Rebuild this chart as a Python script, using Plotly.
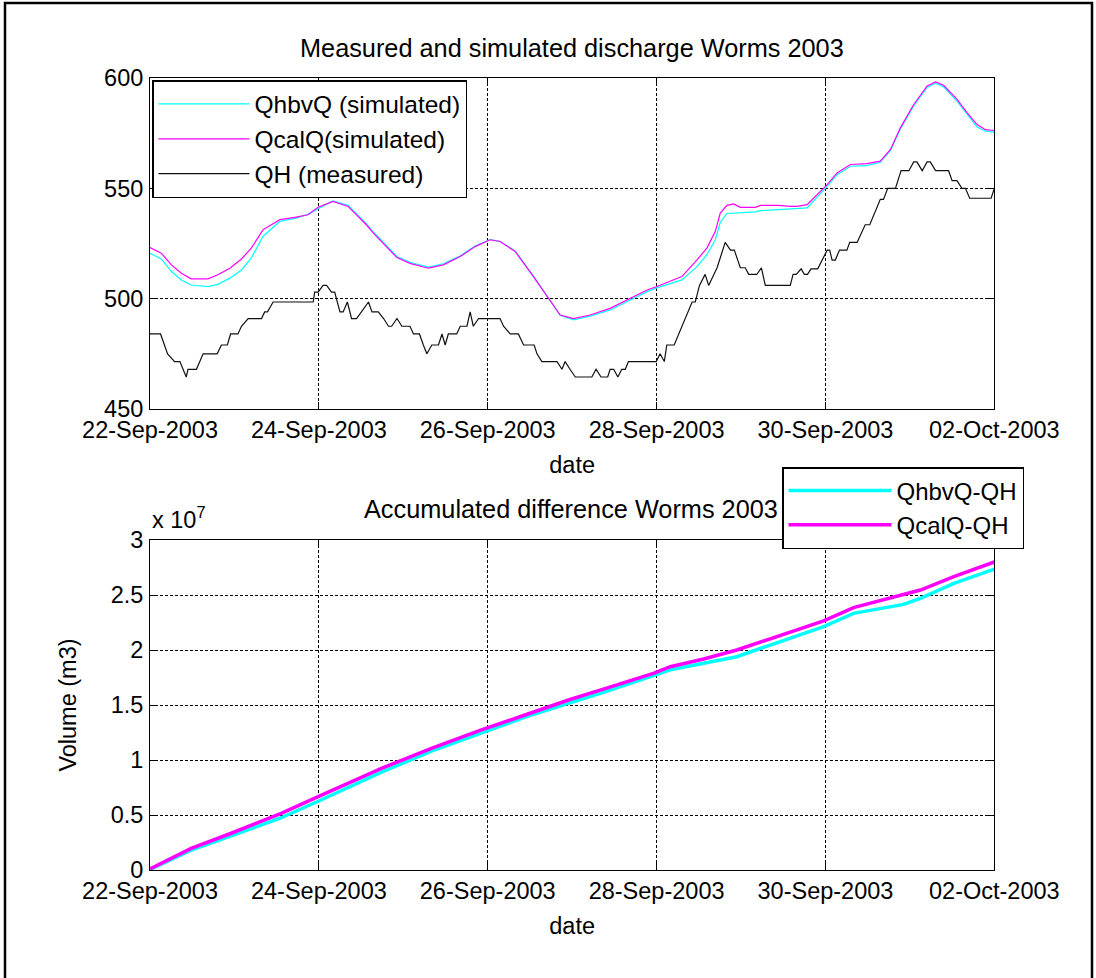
import pandas as pd
import plotly.graph_objects as go

# ---------------- data ----------------
START = "2003-09-22 00:00"

# measured discharge QH: hours after START and values (m3/s)
QH_HOURS = [0, 3, 5, 7, 8.5, 10.3, 10.8, 13.2, 15.1, 19.1, 20.3, 22.0, 22.9, 25.0, 26.0,
            27.9, 31.7, 32.6, 33.4, 35.0, 46.4, 46.8, 47.8, 49.2, 50.2, 51.6, 52.5, 54.0,
            54.9, 56.1, 57.3, 58.7, 60.1, 62.1, 63.1, 64.9, 66.4, 67.8, 68.7, 70.2, 71.6,
            73.9, 74.9, 76.6, 77.7, 78.7, 80.1, 82.0, 83.0, 83.9, 84.8, 87.2, 88.2, 90.1,
            91.0, 91.9, 93.4, 99.5, 100.5, 102.4, 104.7, 106.2, 109.2, 110.0, 111.4, 115.7,
            117.1, 118.0, 119.4, 120.9, 125.6, 126.8, 128.2, 130.1, 130.8, 131.8, 133.0,
            134.1, 135.1, 136.0, 143.9, 145.0, 146.2, 146.9, 149.0, 151.2, 154.1, 155.0,
            156.2, 157.8, 158.8, 161.2, 163.5, 165.0, 166.1, 167.8, 169.2, 170.2, 172.5,
            173.8, 174.9, 182.0, 182.8, 183.7, 185.1, 186.0, 186.9, 187.9, 189.8, 192.5,
            193.2, 193.9, 194.8, 196.0, 198.1, 198.9, 201.0, 203.3, 204.6, 207.6, 208.5,
            209.7, 211.9, 213.5, 215.7, 217.1, 218.0, 219.5, 220.9, 221.8, 223.3, 227.0,
            228.0, 229.4, 230.8, 231.8, 233.0, 239.1, 240.0]
QH_VALUES = [484, 484, 475, 471.5, 471.5, 464.5, 468, 468, 475, 475, 479, 479, 484, 484, 487.5,
             491, 491, 494, 494, 498.5, 498.5, 503, 503, 506, 506, 503, 503, 494,
             494, 498.5, 491, 491, 494, 498.5, 494, 494, 491, 487.5, 487.5, 491, 487.5,
             487.5, 484, 484, 479, 475, 479, 479, 484, 479, 484, 484, 487.5, 487.5,
             494, 487.5, 491, 491, 487.5, 484, 484, 479, 479, 475, 471.5, 471.5,
             468, 471.5, 468, 464.5, 464.5, 468, 464.5, 464.5, 468, 468, 464.5,
             468, 468, 471.5, 471.5, 475, 471.5, 479, 479, 487.5, 498.5, 498.5,
             506, 511, 506, 514, 525.5, 522, 522, 514, 514, 511, 511,
             514, 506, 506, 511, 511, 513.5, 511, 511, 513.5, 513.5, 522,
             522, 517.5, 517.5, 522, 522, 525.5, 525.5, 533.5, 533.5, 545, 545,
             550, 550, 558, 558, 562, 562, 558, 562, 562, 558, 558,
             553.5, 553.5, 550, 550, 545.5, 545.5, 550]

# simulated discharges: hours after START and values (m3/s)
SIM_HOURS = [0, 3.2, 6.1, 8.9, 11.7, 16.5, 19.3, 22.7, 26.0, 28.8, 32.1, 36.9, 41.2, 44.9, 47.8,
             52.0, 56.3, 61.5, 63.5, 67.3, 70.2, 73.9, 79.1, 83.4, 88.2, 92.4, 96.7, 99.5,
             103.8, 109.0, 113.3, 116.6, 120.4, 125.1, 130.8, 136.5, 141.3, 144.1, 147.9,
             151.2, 155.5, 158.3, 160.7, 162.1, 164.0, 165.9, 167.8, 172.1, 173.5, 178.7,
             182.0, 183.9, 186.8, 189.6, 192.5, 195.3, 199.1, 203.8, 207.6, 210.5, 213.3,
             217.1, 220.9, 223.3, 225.6, 229.4, 232.3, 235.1, 237.5, 240.0]
QHBVQ_VALUES = [520.6, 518, 512.3, 508.5, 506.2, 505.5, 506.5, 509.3, 513, 518.5, 528.2, 535,
                536.4, 538.2, 540.8, 544.3, 542.3, 534, 530.2, 524.1, 519.1, 516.5, 514.3,
                515.8, 519.4, 523.8, 526.8, 526, 521.6, 510.2, 500.3, 492.5, 490.4, 492.1,
                494.9, 499.4, 503.2, 504.9, 507, 508.5, 514.5, 519.9, 526.7, 534.5, 538.6,
                538.8, 538.8, 539.3, 539.9, 540.3, 540.6, 540.6, 541.1, 546, 550.9, 556.2,
                560, 560.3, 561.8, 567.2, 576.9, 587.3, 595.7, 597.6, 596, 589.5, 583.5,
                577.8, 575.9, 575.5]
QCALQ_VALUES = [523.2, 520.6, 515.3, 511.5, 509, 509, 510.8, 513.8, 518, 522.9, 531.2, 535.8,
                536.8, 538, 541.4, 544.1, 541.8, 533.5, 529.7, 523.6, 518.6, 516, 513.8,
                515.3, 519.1, 523.6, 526.7, 525.9, 521.4, 510, 500.1, 492.6, 491, 492.6,
                495.6, 500.1, 503.9, 505.5, 508, 510, 517.6, 522.9, 530.5, 538.8, 542.3,
                542.9, 541.4, 541.4, 542.3, 542.3, 541.8, 541.8, 542.6, 547.1, 551.7, 557,
                560.8, 561.2, 562.3, 567.6, 577.4, 588, 596.4, 598.2, 596.7, 590.3, 584.2,
                578.9, 576.6, 576.2]

# accumulated differences (m3)
CUM_HOURS = [0, 11.7, 23.1, 37.3, 47.8, 56.3, 65.8, 80.0, 94.2, 106.6, 119.4, 128.9, 143.1,
             147.9, 157.4, 166.8, 176.3, 191.5, 200.0, 214.2, 219.0, 228.5, 240.0]
CUM_QHBVQ_QH = [0.005e7, 0.18e7, 0.31e7, 0.475e7, 0.625e7, 0.75e7, 0.89e7, 1.08e7, 1.25e7,
                1.39e7, 1.52e7, 1.615e7, 1.767e7, 1.82e7, 1.879e7, 1.939e7, 2.045e7,
                2.212e7, 2.333e7, 2.415e7, 2.47e7, 2.606e7, 2.736e7]
CUM_QCALQ_QH = [0.01e7, 0.197e7, 0.334e7, 0.515e7, 0.667e7, 0.788e7, 0.924e7, 1.106e7,
                1.273e7, 1.409e7, 1.55e7, 1.645e7, 1.788e7, 1.848e7, 1.918e7, 2.0e7, 2.1e7,
                2.264e7, 2.385e7, 2.5e7, 2.545e7, 2.667e7, 2.80e7]

X_TICKS = ["2003-09-22", "2003-09-24", "2003-09-26", "2003-09-28", "2003-09-30", "2003-10-02"]
Y1_TICKS = [450, 500, 550, 600]
Y2_TICKS = [0, 0.5e7, 1e7, 1.5e7, 2e7, 2.5e7, 3e7]
Y2_TICKTEXT = ["0", "0.5", "1", "1.5", "2", "2.5", "3"]

assert len(QH_HOURS) == len(QH_VALUES)
assert len(SIM_HOURS) == len(QHBVQ_VALUES) == len(QCALQ_VALUES)
assert len(CUM_HOURS) == len(CUM_QHBVQ_QH) == len(CUM_QCALQ_QH)

t0 = pd.Timestamp(START)


def to_time(hours):
    return [t0 + pd.Timedelta(hours=h) for h in hours]


# ---------------- layout helpers ----------------
W, H = 1096, 978


def fx(x):
    return x / W


def fy(y):
    return 1 - y / H


FONT = "Liberation Sans, Arial, Helvetica, sans-serif"
CYAN = "#00FFFF"
MAGENTA = "#FF00FF"

fig = go.Figure()
fig.add_trace(go.Scatter(x=to_time(SIM_HOURS), y=QHBVQ_VALUES, mode="lines",
                         name="QhbvQ (simulated)", line=dict(color=CYAN, width=1.2),
                         xaxis="x", yaxis="y", legend="legend", legendgroup="g1"))
fig.add_trace(go.Scatter(x=to_time(SIM_HOURS), y=QCALQ_VALUES, mode="lines",
                         name="QcalQ(simulated)", line=dict(color=MAGENTA, width=1.2),
                         xaxis="x", yaxis="y", legend="legend", legendgroup="g2"))
fig.add_trace(go.Scatter(x=to_time(QH_HOURS), y=QH_VALUES, mode="lines",
                         name="QH (measured)", line=dict(color="#111111", width=1.2),
                         xaxis="x", yaxis="y", legend="legend", legendgroup="g3"))
fig.add_trace(go.Scatter(x=to_time(CUM_HOURS), y=CUM_QHBVQ_QH, mode="lines",
                         name="QhbvQ-QH", line=dict(color=CYAN, width=3.5),
                         xaxis="x2", yaxis="y2", legend="legend2", legendgroup="g4"))
fig.add_trace(go.Scatter(x=to_time(CUM_HOURS), y=CUM_QCALQ_QH, mode="lines",
                         name="QcalQ-QH", line=dict(color=MAGENTA, width=3.5),
                         xaxis="x2", yaxis="y2", legend="legend2", legendgroup="g5"))

XDOM = [fx(150), fx(994.3)]
XRANGE = [t0, t0 + pd.Timedelta(days=10)]

common = dict(showline=True, linecolor="black", linewidth=1, mirror="ticks",
              ticks="inside", ticklen=7, tickwidth=1, tickcolor="black",
              showgrid=True, gridcolor="black", gridwidth=1, griddash="3px,2px",
              zeroline=False, automargin=False,
              tickfont=dict(family=FONT, size=23.5, color="black"))

xaxis_common = dict(common, range=XRANGE, tickvals=X_TICKS, tickformat="%d-%b-%Y",
                    domain=XDOM, ticklabelstandoff=0)

fig.update_layout(
    width=W, height=H,
    margin=dict(l=0, r=0, t=0, b=0, autoexpand=False),
    paper_bgcolor="white", plot_bgcolor="white",
    font=dict(family=FONT, size=23.5, color="black"),
    xaxis=dict(xaxis_common, anchor="y",
               title=dict(text="date", font=dict(size=23.5), standoff=14)),
    yaxis=dict(common, domain=[fy(409), fy(78)], range=[450, 600], tickvals=Y1_TICKS,
               anchor="x", ticklabelstandoff=1),
    xaxis2=dict(xaxis_common, anchor="y2",
                title=dict(text="date", font=dict(size=23.5), standoff=14)),
    yaxis2=dict(common, domain=[fy(870), fy(540)], range=[0, 3e7], tickvals=Y2_TICKS,
                ticktext=Y2_TICKTEXT, anchor="x2", ticklabelstandoff=1,
                title=dict(text="Volume (m3)", font=dict(size=23.5), standoff=27)),
    legend=dict(x=fx(152), y=fy(80), xanchor="left", yanchor="top",
                bgcolor="white", bordercolor="black", borderwidth=1.5,
                font=dict(family=FONT, size=24.5, color="black"),
                itemwidth=91, tracegroupgap=7, traceorder="normal"),
    legend2=dict(x=fx(782), y=fy(467), xanchor="left", yanchor="top",
                 bgcolor="white", bordercolor="black", borderwidth=1.5,
                 font=dict(family=FONT, size=24, color="black"),
                 itemwidth=103, tracegroupgap=0, traceorder="normal"),
    showlegend=True,
    annotations=[
        dict(text="Measured and simulated discharge Worms 2003", x=fx(572), y=fy(48),
             xref="paper", yref="paper", xanchor="center", yanchor="middle",
             showarrow=False, font=dict(family=FONT, size=25.3, color="black")),
        dict(text="Accumulated difference Worms 2003", x=fx(571), y=fy(509),
             xref="paper", yref="paper", xanchor="center", yanchor="middle",
             showarrow=False, font=dict(family=FONT, size=25.3, color="black")),
        dict(text="x 10<sup>7</sup>", x=fx(150), y=fy(518),
             xref="paper", yref="paper", xanchor="left", yanchor="middle",
             showarrow=False, font=dict(family=FONT, size=23.5, color="black")),
    ],
    shapes=[
        dict(type="rect", xref="paper", yref="paper", x0=fx(5), x1=fx(1092),
             y0=fy(1000), y1=fy(3), line=dict(color="black", width=2.5),
             fillcolor="rgba(0,0,0,0)", layer="above"),
    ],
)

fig.write_html("out.html")
